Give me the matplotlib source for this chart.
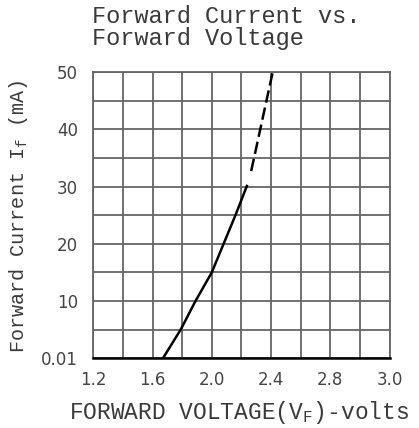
import matplotlib.pyplot as plt

# forward voltage (V) vs forward current (mA)
v_solid = [1.67, 1.79, 1.89, 2.00, 2.08, 2.16, 2.24]
i_solid = [0, 5, 10, 15, 20, 25, 30.3]
v_dash = [2.266, 2.414]
i_dash = [32.7, 50.3]

x_ticks = [1.2, 1.6, 2.0, 2.4, 2.8, 3.2]
x_labels = ['1.2', '1.6', '2.0', '2.4', '2.8', '3.0']
y_ticks = [0, 10, 20, 30, 40, 50]
y_labels = ['0.01', '10', '20', '30', '40', '50']

txt = '#3a3a3a'
mono = 'Liberation Mono'

fig = plt.figure(figsize=(4.19, 4.28), dpi=100)
ax = fig.add_axes([0.2227, 0.1629, 0.7069, 0.6689])

ax.plot(v_solid, i_solid, color='black', lw=1.8, solid_capstyle='butt')
ax.plot(v_dash, i_dash, color='black', lw=1.8, dashes=(5, 2))

ax.set_xlim(1.2, 3.2)
ax.set_ylim(0, 50)

ax.set_xticks(x_ticks)
ax.set_xticklabels(x_labels)
ax.set_yticks(y_ticks)
ax.set_yticklabels(y_labels)
ax.set_xticks([1.2 + 0.2 * k for k in range(11)], minor=True)
ax.set_yticks([5 * k for k in range(11)], minor=True)
ax.grid(which='both', color='#666666', lw=1.3)
ax.tick_params(which='both', length=0, labelsize=12, labelcolor='#444444')
ax.tick_params(axis='x', pad=9)
ax.tick_params(axis='y', pad=11)

for s in ['left', 'right', 'top']:
    ax.spines[s].set_color('#666666')
    ax.spines[s].set_linewidth(1.3)
ax.spines['bottom'].set_color('black')
ax.spines['bottom'].set_linewidth(1.8)

fig.text(92 / 419, 1 - 5 / 428, 'Forward Current vs.\nForward Voltage',
         ha='left', va='top', fontsize=17, family=mono, color=txt,
         linespacing=0.95)
fig.text(0.5 * (68 + 410) / 419, 1 - 412 / 428,
         r'FORWARD VOLTAGE(V$_\mathregular{F}$)-volts',
         ha='center', va='center', fontsize=16.5, family=mono, color=txt)
fig.text(19 / 419, 1 - 216 / 428, r'Forward Current I$_\mathregular{f}$ (mA)',
         ha='center', va='center', rotation=90, fontsize=14.5, family=mono,
         color=txt)

fig.savefig('out.png', dpi=100)
